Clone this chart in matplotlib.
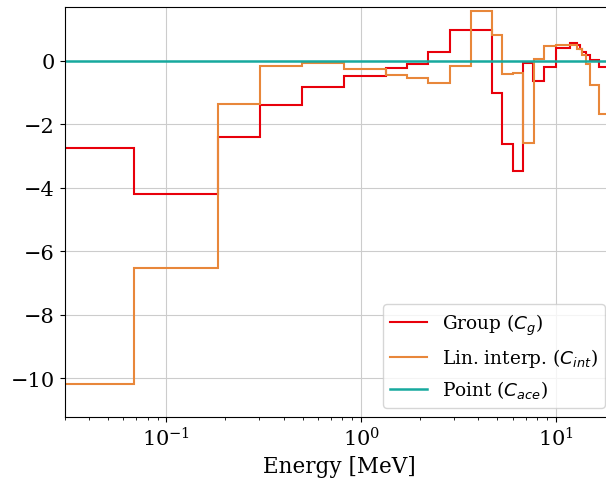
import matplotlib
matplotlib.use("Agg")
import matplotlib.pyplot as plt

# group-wise correction (C_g)
group_edges = [0.0303, 0.0677, 0.183, 0.302, 0.494, 0.814, 1.34, 1.72, 2.21, 2.85,
               4.73, 5.32, 6.06, 6.82, 7.68, 8.74, 10.0, 11.9, 12.9, 13.3, 13.7,
               14.3, 15.0, 16.7, 20.0]
group_vals = [-2.75, -4.20, -2.41, -1.39, -0.83, -0.48, -0.23, -0.09, 0.29, 0.99,
              -1.02, -2.61, -3.48, -0.06, -0.64, -0.18, 0.40, 0.57, 0.50, 0.38,
              0.27, 0.20, 0.04, -0.18]

# linear interpolation (C_int)
interp_edges = [0.0303, 0.0677, 0.183, 0.302, 0.494, 0.814, 1.34, 1.72, 2.21, 2.85,
                3.66, 4.73, 5.32, 6.0, 6.82, 7.76, 8.74, 10.0, 12.9, 13.7, 14.3,
                15.0, 16.7, 20.0]
interp_vals = [-10.17, -6.51, -1.36, -0.15, -0.07, -0.25, -0.43, -0.55, -0.69, -0.17,
               1.58, 0.82, -0.42, -0.38, -2.60, 0.06, 0.48, 0.50, 0.38, 0.20,
               -0.09, -0.76, -1.67]

# pointwise (C_ace)
point_energy = [0.03, 20.0]
point_vals = [0.0, 0.0]

plt.rcParams["font.family"] = "serif"
plt.rcParams["font.size"] = 15

fig = plt.figure(figsize=(6.06, 4.81), dpi=100)
ax = fig.add_axes([0.1068, 0.131, 0.907, 0.8524])

ax.stairs(group_vals, group_edges, baseline=None, color="#e8000b", lw=1.5,
          label=r"Group ($C_g$)")
ax.stairs(interp_vals, interp_edges, baseline=None, color="#e8873a", lw=1.5,
          label=r"Lin. interp. ($C_{int}$)")
ax.plot(point_energy, point_vals, color="#17a99e", lw=1.8, label=r"Point ($C_{ace}$)")

ax.set_xscale("log")
ax.set_xlim(0.03, 20)
ax.set_ylim(-11.22, 1.70)
ax.set_yticks([0, -2, -4, -6, -8, -10])
ax.grid(True, color="#cccccc", lw=0.8)
ax.set_axisbelow(True)
ax.set_xlabel("Energy [MeV]", fontsize=15.5, labelpad=4)
ax.legend(loc="lower right", fontsize=13.3)

fig.savefig("out.png", dpi=100)
plt.close(fig)
